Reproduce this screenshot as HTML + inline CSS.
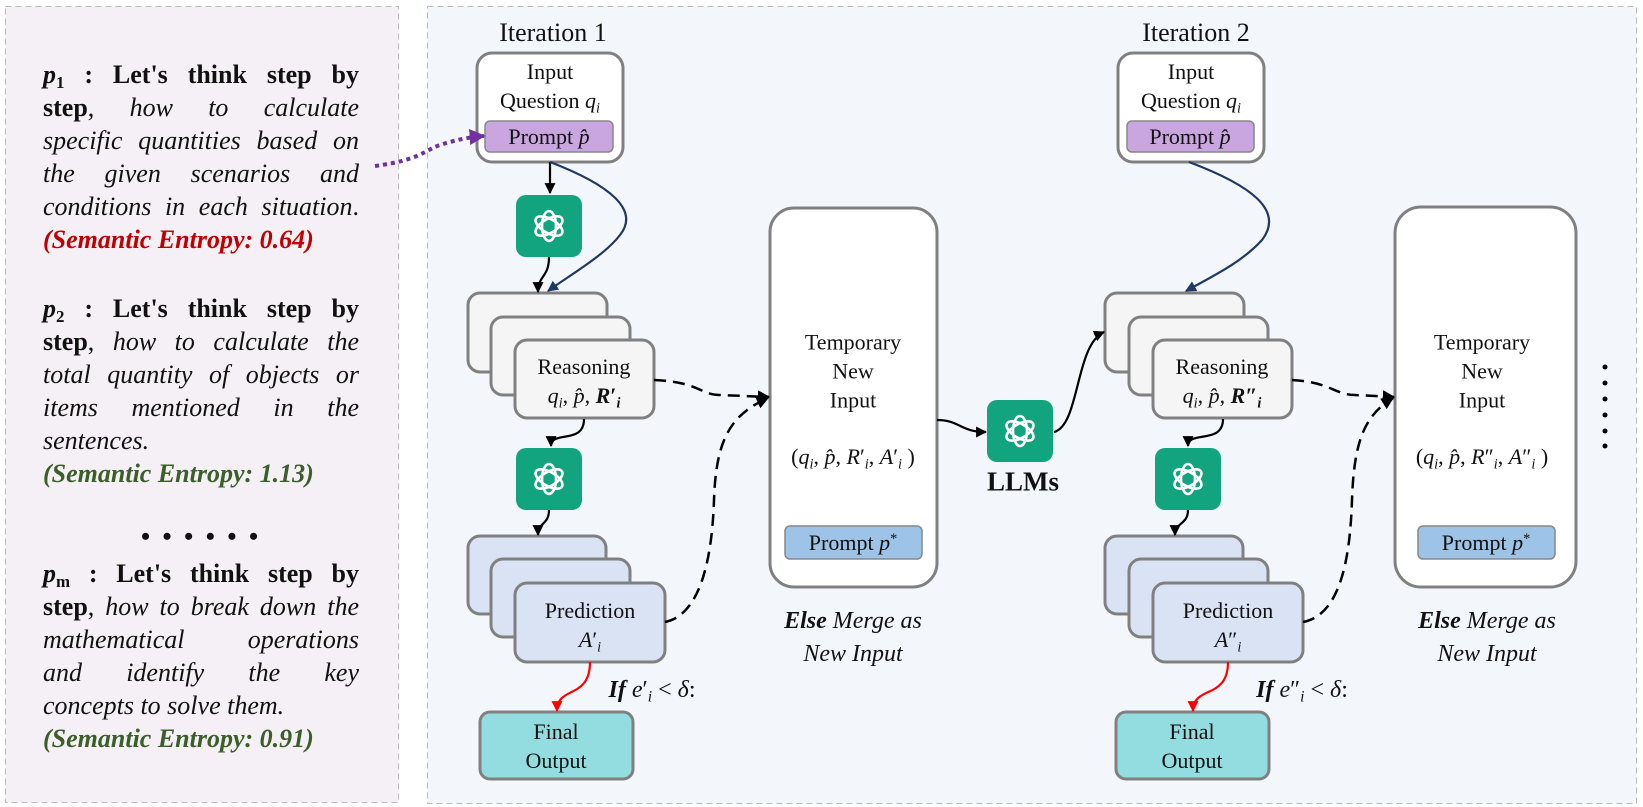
<!DOCTYPE html>
<html><head><meta charset="utf-8"><style>
body{margin:0;width:1643px;height:807px;background:#fff;position:relative;overflow:hidden;font-family:"Liberation Serif",serif;}
.abs{position:absolute;}
.c{position:absolute;transform:translate(-50%,-50%);white-space:nowrap;font-size:22px;color:#111;line-height:1;}
.ln{position:absolute;left:43px;width:316px;font-size:26px;height:33px;line-height:33px;white-space:nowrap;color:#111;}
.j{text-align:justify;text-align-last:justify;white-space:normal;}
.red{color:#c00000;font-weight:bold;font-style:italic;}
.grn{color:#3a5f28;font-weight:bold;font-style:italic;}
sub{font-size:0.65em;vertical-align:-0.3em;line-height:0}
sup{font-size:0.65em;vertical-align:0.5em;line-height:0}
</style></head><body>
<svg class="abs" style="left:0;top:0" width="1643" height="807" xmlns="http://www.w3.org/2000/svg">
<defs>
<marker id="ab" viewBox="0 0 10 10" refX="9" refY="5" markerWidth="5" markerHeight="5" orient="auto"><path d="M0,0 L10,5 L0,10 z" fill="#000"/></marker>
<marker id="an" viewBox="0 0 10 10" refX="9" refY="5" markerWidth="5" markerHeight="5" orient="auto"><path d="M0,0 L10,5 L0,10 z" fill="#1f3864"/></marker>
<marker id="ar" viewBox="0 0 10 10" refX="9" refY="5" markerWidth="5" markerHeight="5" orient="auto"><path d="M0,0 L10,5 L0,10 z" fill="#f00"/></marker>
<marker id="ap" viewBox="0 0 10 10" refX="9" refY="5" markerWidth="4" markerHeight="4" orient="auto"><path d="M0,0 L10,5 L0,10 z" fill="#7030a0"/></marker>
<g id="gpt">
<rect x="0" y="0" width="66" height="62" rx="10" fill="#12a37f"/>
<g fill="none" stroke="#fff" stroke-width="2.6" transform="translate(33,31)">
<ellipse rx="7" ry="15"/>
<ellipse rx="7" ry="15" transform="rotate(60)"/>
<ellipse rx="7" ry="15" transform="rotate(120)"/>
</g>
</g>
</defs>
<rect x="5.5" y="6.5" width="393" height="796" fill="#f5f0f5" stroke="#bbb" stroke-dasharray="6 4"/>
<rect x="427.5" y="6.5" width="1209" height="797" fill="#f3f7fc" stroke="#bbb" stroke-dasharray="6 4"/>

<rect x="477" y="53" width="146" height="109" rx="15" fill="#fff" stroke="#808080" stroke-width="3"/>
<rect x="485" y="121" width="128" height="31" rx="5" fill="#c9a6e0" stroke="#888" stroke-width="1.5"/>
<use href="#gpt" x="516" y="195"/>
<use href="#gpt" x="516" y="448"/>
<rect x="468" y="293" width="139" height="79" rx="12" fill="#f5f5f5" stroke="#808080" stroke-width="3"/>
<rect x="491" y="317" width="139" height="78" rx="12" fill="#f5f5f5" stroke="#808080" stroke-width="3"/>
<rect x="515" y="340" width="139" height="78" rx="12" fill="#f5f5f5" stroke="#808080" stroke-width="3"/>
<rect x="468" y="536" width="138" height="78" rx="12" fill="#dae3f3" stroke="#808080" stroke-width="3"/>
<rect x="491" y="559" width="139" height="78" rx="12" fill="#dae3f3" stroke="#808080" stroke-width="3"/>
<rect x="515" y="583" width="150" height="79" rx="12" fill="#dae3f3" stroke="#808080" stroke-width="3"/>
<rect x="480" y="712" width="153" height="67" rx="10" fill="#93dde0" stroke="#808080" stroke-width="3"/>
<rect x="770" y="208" width="167" height="379" rx="24" fill="#fff" stroke="#808080" stroke-width="3"/>
<rect x="785" y="526" width="137" height="33" rx="5" fill="#9dc3e6" stroke="#888" stroke-width="1.5"/>

<use href="#gpt" x="987" y="400"/>

<rect x="1118" y="53" width="146" height="109" rx="15" fill="#fff" stroke="#808080" stroke-width="3"/>
<rect x="1127" y="121" width="127" height="31" rx="5" fill="#c9a6e0" stroke="#888" stroke-width="1.5"/>
<use href="#gpt" x="1155" y="448"/>
<rect x="1105" y="293" width="139" height="79" rx="12" fill="#f5f5f5" stroke="#808080" stroke-width="3"/>
<rect x="1129" y="317" width="139" height="78" rx="12" fill="#f5f5f5" stroke="#808080" stroke-width="3"/>
<rect x="1153" y="340" width="139" height="78" rx="12" fill="#f5f5f5" stroke="#808080" stroke-width="3"/>
<rect x="1105" y="536" width="138" height="78" rx="12" fill="#dae3f3" stroke="#808080" stroke-width="3"/>
<rect x="1129" y="559" width="139" height="78" rx="12" fill="#dae3f3" stroke="#808080" stroke-width="3"/>
<rect x="1153" y="583" width="150" height="79" rx="12" fill="#dae3f3" stroke="#808080" stroke-width="3"/>
<rect x="1116" y="712" width="153" height="67" rx="10" fill="#93dde0" stroke="#808080" stroke-width="3"/>
<rect x="1395" y="207" width="181" height="380" rx="26" fill="#fff" stroke="#808080" stroke-width="3"/>
<rect x="1418" y="526" width="137" height="33" rx="5" fill="#9dc3e6" stroke="#888" stroke-width="1.5"/>

<g fill="#000"><circle cx="1605" cy="367" r="2.5"/><circle cx="1605" cy="383" r="2.5"/><circle cx="1605" cy="399" r="2.5"/><circle cx="1605" cy="415" r="2.5"/><circle cx="1605" cy="431" r="2.5"/><circle cx="1605" cy="446" r="2.5"/></g>

<path d="M375,166 C420,160 425,150 440,145 C455,140 470,137 484,136" fill="none" stroke="#7030a0" stroke-width="4" stroke-dasharray="4 4" marker-end="url(#ap)"/>
<g fill="none" stroke="#000" stroke-width="2.2">
<path d="M550,162 L550,193" marker-end="url(#ab)"/>
<path d="M549,257 C549,278 538,275 538,292" marker-end="url(#ab)"/>
<path d="M584,419 C584,445 551,430 551,446" marker-end="url(#ab)"/>
<path d="M549,510 C549,525 538,522 538,535" marker-end="url(#ab)"/>
<path d="M937,420 C960,420 960,432 986,432" marker-end="url(#ab)"/>
<path d="M1054,432 C1080,425 1075,345 1104,332" marker-end="url(#ab)"/>
<path d="M1223,419 C1223,445 1188,430 1188,446" marker-end="url(#ab)"/>
<path d="M1188,510 C1188,525 1175,522 1175,535" marker-end="url(#ab)"/>
</g>
<g fill="none" stroke="#000" stroke-width="2.5" stroke-dasharray="12 7">
<path d="M654,380 C700,382 700,395 720,395 L769,397" marker-end="url(#ab)"/>
<path d="M665,622 C700,615 712,560 714,500 C716,440 730,415 768,398" marker-end="url(#ab)"/>
<path d="M1292,380 C1330,382 1335,395 1355,395 L1394,397" marker-end="url(#ab)"/>
<path d="M1303,622 C1340,615 1350,560 1352,500 C1354,440 1365,415 1393,398" marker-end="url(#ab)"/>
</g>
<g fill="none" stroke="#1f3864" stroke-width="2.2">
<path d="M550,162 C610,185 640,210 620,235 C605,255 570,275 548,291" marker-end="url(#an)"/>
<path d="M1189,162 C1250,185 1285,210 1262,240 C1242,262 1215,275 1186,291" marker-end="url(#an)"/>
</g>
<g fill="none" stroke="#f00" stroke-width="2.2">
<path d="M590,662 C590,700 557,685 557,711" marker-end="url(#ar)"/>
<path d="M1228,662 C1228,700 1193,685 1193,711" marker-end="url(#ar)"/>
</g>
</svg>

<div class="ln j" style="top:58px"><b><i>p</i><sub>1</sub> : Let's think step by</b></div>
<div class="ln j" style="top:91px"><b>step</b>, <i>how to calculate</i></div>
<div class="ln j" style="top:124px"><i>specific quantities based on</i></div>
<div class="ln j" style="top:157px"><i>the given scenarios and</i></div>
<div class="ln j" style="top:190px"><i>conditions in each situation</i>.</div>
<div class="ln red" style="top:223px">(Semantic Entropy: 0.64)</div>

<div class="ln j" style="top:292px"><b><i>p</i><sub>2</sub> : Let's think step by</b></div>
<div class="ln j" style="top:325px"><b>step</b>, <i>how to calculate the</i></div>
<div class="ln j" style="top:358px"><i>total quantity of objects or</i></div>
<div class="ln j" style="top:391px"><i>items mentioned in the</i></div>
<div class="ln" style="top:424px"><i>sentences.</i></div>
<div class="ln grn" style="top:457px">(Semantic Entropy: 1.13)</div>

<div class="ln" style="top:520px;text-align:center;font-weight:bold;letter-spacing:3px">• • • • • •</div>

<div class="ln j" style="top:557px"><b><i>p</i><sub>m</sub> : Let's think step by</b></div>
<div class="ln j" style="top:590px"><b>step</b>, <i>how to break down the</i></div>
<div class="ln j" style="top:623px"><i>mathematical operations</i></div>
<div class="ln j" style="top:656px"><i>and identify the key</i></div>
<div class="ln" style="top:689px"><i>concepts to solve them.</i></div>
<div class="ln grn" style="top:722px">(Semantic Entropy: 0.91)</div>

<div class="c" style="left:553px;top:33px;font-size:26px">Iteration 1</div>
<div class="c" style="left:550px;top:72px">Input</div>
<div class="c" style="left:550px;top:101px">Question <i>q<sub>i</sub></i></div>
<div class="c" style="left:549px;top:137px">Prompt <i>p̂</i></div>
<div class="c" style="left:584px;top:367px">Reasoning</div>
<div class="c" style="left:584px;top:396px"><i>q<sub>i</sub></i>, <i>p̂</i>, <b><i>R</i>′<sub><i>i</i></sub></b></div>
<div class="c" style="left:590px;top:611px">Prediction</div>
<div class="c" style="left:590px;top:640px"><i>A</i>′<sub><i>i</i></sub></div>
<div class="c" style="left:556px;top:746px;line-height:29px;text-align:center">Final<br>Output</div>
<div class="c" style="left:652px;top:690px;font-size:24px"><b><i>If</i></b> <i>e</i>′<sub><i>i</i></sub> &lt; <i>δ</i>:</div>
<div class="c" style="left:853px;top:371px;line-height:29px;text-align:center">Temporary<br>New<br>Input</div>
<div class="c" style="left:853px;top:457px">(<i>q<sub>i</sub></i>, <i>p̂</i>, <i>R</i>′<sub><i>i</i></sub>, <i>A</i>′<sub><i>i</i></sub> )</div>
<div class="c" style="left:853px;top:543px">Prompt <i>p</i><sup>*</sup></div>
<div class="c" style="left:853px;top:638px;font-size:24px;line-height:33px;text-align:center;font-style:italic"><b>Else</b> Merge as<br>New Input</div>

<div class="c" style="left:1023px;top:482px;font-size:27px;font-weight:bold">LLMs</div>

<div class="c" style="left:1196px;top:33px;font-size:26px">Iteration 2</div>
<div class="c" style="left:1191px;top:72px">Input</div>
<div class="c" style="left:1191px;top:101px">Question <i>q<sub>i</sub></i></div>
<div class="c" style="left:1190px;top:137px">Prompt <i>p̂</i></div>
<div class="c" style="left:1222px;top:367px">Reasoning</div>
<div class="c" style="left:1222px;top:396px"><i>q<sub>i</sub></i>, <i>p̂</i>, <b><i>R</i>″<sub><i>i</i></sub></b></div>
<div class="c" style="left:1228px;top:611px">Prediction</div>
<div class="c" style="left:1228px;top:640px"><i>A</i>″<sub><i>i</i></sub></div>
<div class="c" style="left:1192px;top:746px;line-height:29px;text-align:center">Final<br>Output</div>
<div class="c" style="left:1302px;top:690px;font-size:24px"><b><i>If</i></b> <i>e</i>″<sub><i>i</i></sub> &lt; <i>δ</i>:</div>
<div class="c" style="left:1482px;top:371px;line-height:29px;text-align:center">Temporary<br>New<br>Input</div>
<div class="c" style="left:1482px;top:457px">(<i>q<sub>i</sub></i>, <i>p̂</i>, <i>R</i>″<sub><i>i</i></sub>, <i>A</i>″<sub><i>i</i></sub> )</div>
<div class="c" style="left:1486px;top:543px">Prompt <i>p</i><sup>*</sup></div>
<div class="c" style="left:1487px;top:638px;font-size:24px;line-height:33px;text-align:center;font-style:italic"><b>Else</b> Merge as<br>New Input</div>
</body></html>
